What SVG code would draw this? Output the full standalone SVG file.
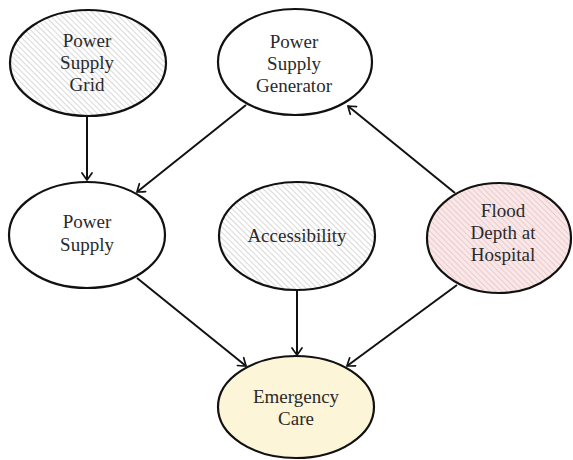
<svg xmlns="http://www.w3.org/2000/svg" width="573" height="460" viewBox="0 0 573 460">
  <defs>
    <pattern id="hatchGray" patternUnits="userSpaceOnUse" width="4" height="4" patternTransform="rotate(-45)">
      <rect width="4" height="4" fill="#ffffff"/>
      <line x1="0" y1="0" x2="0" y2="4" stroke="#b8b8b8" stroke-width="1.1"/>
    </pattern>
    <pattern id="hatchPink" patternUnits="userSpaceOnUse" width="4" height="4" patternTransform="rotate(-45)">
      <rect width="4" height="4" fill="#fae8e8"/>
      <line x1="0" y1="0" x2="0" y2="4" stroke="#e0b4b8" stroke-width="1.1"/>
    </pattern>
    <marker id="to" viewBox="-9 -6 11 12" markerWidth="11" markerHeight="12" refX="0" refY="0" orient="auto" markerUnits="userSpaceOnUse">
      <path d="M -7,-5 Q -1.5,-1.2 0,0 Q -1.5,1.2 -7,5" fill="none" stroke="#111" stroke-width="1.7" stroke-linecap="round"/>
    </marker>
  </defs>
  <style>
    .node ellipse { stroke: #111; stroke-width: 2.2; }
    .plain { fill: #ffffff; }
    .gray { fill: url(#hatchGray); }
    .pink { fill: url(#hatchPink); }
    .care { fill: #fcf5d8; }
    .label { font-family: "Liberation Serif", "DejaVu Serif", serif; font-size: 19px; fill: #2a2a2a; text-anchor: middle; }
    #connectors line { stroke: #111; stroke-width: 2; marker-end: url(#to); }
  </style>

  <g id="connectors">
    <line x1="87" y1="116" x2="87" y2="180"/>
    <line x1="246" y1="105" x2="137" y2="192"/>
    <line x1="455" y1="193" x2="348" y2="106"/>
    <line x1="137" y1="278" x2="246" y2="366"/>
    <line x1="297" y1="290" x2="297" y2="355"/>
    <line x1="457" y1="285" x2="347" y2="366"/>
  </g>

  <g id="power-supply-grid" class="node">
    <ellipse class="gray" cx="88" cy="63" rx="78" ry="53"/>
    <text class="label" x="87" y="47">Power</text>
    <text class="label" x="87" y="69">Supply</text>
    <text class="label" x="87" y="91">Grid</text>
  </g>

  <g id="power-supply-generator" class="node">
    <ellipse class="plain" cx="295" cy="62" rx="77" ry="53"/>
    <text class="label" x="294" y="48">Power</text>
    <text class="label" x="294" y="70">Supply</text>
    <text class="label" x="294" y="92">Generator</text>
  </g>

  <g id="power-supply" class="node">
    <ellipse class="plain" cx="87" cy="235" rx="78" ry="53"/>
    <text class="label" x="87" y="228">Power</text>
    <text class="label" x="87" y="251">Supply</text>
  </g>

  <g id="accessibility" class="node">
    <ellipse class="gray" cx="297" cy="236" rx="78" ry="54"/>
    <text class="label" x="297" y="242">Accessibility</text>
  </g>

  <g id="flood-depth" class="node">
    <ellipse class="pink" cx="499" cy="238" rx="72" ry="55"/>
    <text class="label" x="503" y="217">Flood</text>
    <text class="label" x="503" y="239">Depth at</text>
    <text class="label" x="503" y="261">Hospital</text>
  </g>

  <g id="emergency-care" class="node">
    <ellipse class="care" cx="296" cy="407" rx="78" ry="51"/>
    <text class="label" x="296" y="403">Emergency</text>
    <text class="label" x="296" y="425">Care</text>
  </g>
</svg>
